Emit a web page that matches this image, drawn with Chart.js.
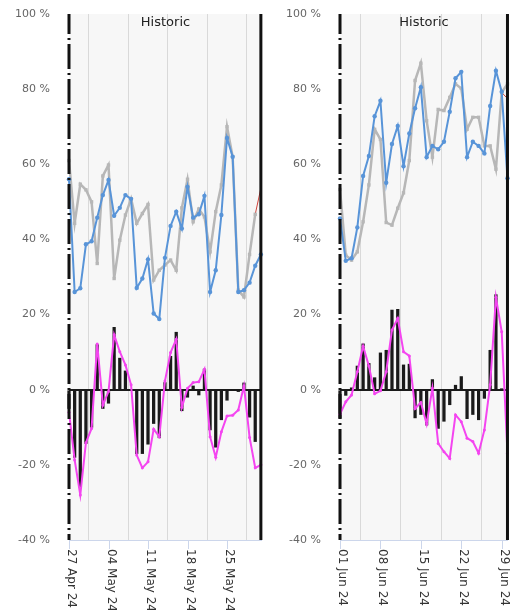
<!DOCTYPE html>
<html>
<head>
<meta charset="utf-8">
<script src="https://cdn.jsdelivr.net/npm/chart.js@4.4.1/dist/chart.umd.min.js"></script>
<style>
  html, body { margin:0; padding:0; background:#fff; overflow:hidden; width:512px; height:610px; }
  .panel { position:absolute; top:0; }
</style>
</head>
<body>
<div class="panel" style="left:0"><canvas id="may" width="270" height="610"></canvas></div>
<div class="panel" style="left:270px"><canvas id="jun" width="242" height="610"></canvas></div>
<script>
// weekly ticks (day index from the first day of each panel)
const tickDays = [0, 7, 14, 21, 28];
const mayLabels = ['27 Apr 24', '04 May 24', '11 May 24', '18 May 24', '25 May 24'];
const junLabels = ['01 Jun 24', '08 Jun 24', '15 Jun 24', '22 Jun 24', '29 Jun 24'];

// 27 Apr - 31 May
const mayBlue = [56, 26, 27, 38.7, 39.5, 45.8, 51.8, 55.8, 46.3, 48.4, 51.8, 50.8, 27.1, 29.6, 34.7, 20.3, 18.8, 35.1,
                 43.6, 47.4, 42.9, 54, 45.8, 46.7, 51.6, 26, 31.8, 46.5, 67, 62, 26, 26.5, 28.5, 33, 36];
const mayGray = [61, 44.3, 54.7, 53.2, 50, 33.6, 56.9, 59.8, 29.6, 39.8, 46.5, 50.8, 44.3, 46.9, 49.3, 29.2, 31.8, 33.2,
                 34.5, 31.8, 48.4, 56, 44.7, 48.1, 46, 36.7, 47.4, 54.5, 70, 62, 26.5, 24.7, 36, 46.7, null];
const mayDiff = [-5, -18, -26, -14.3, -10, 12, -5, -3.6, 16.6, 8.4, 5, 0, -17, -17, -14.5, -9, -12.8, 1.9,
                 8.9, 15.3, -5.6, -2, 1, -1.4, 5.5, -10.7, -15.3, -8, -2.8, 0, -0.5, 1.8, -7.3, -13.8, null];
const mayPink = [-6, -18.7, -28, -14.1, -10.3, 12.2, -4.1, -0.5, 14.6, 10.1, 6.6, 1.3, -17.4, -20.8, -19.2, -10.5, -12.5, 2.3,
                 9.9, 13.4, -4.7, 0.4, 1.9, 2.1, 5.4, -12.5, -18, -11.2, -7, -6.8, -5.4, 1, -12.7, -20.8, -20];
const mayForecast = [46.7, 53.6];
const mayForecastStart = 33;

// 01 Jun - 30 Jun
const junBlue = [45.6, 34.3, 35, 43.2, 56.9, 62.2, 72.8, 76.9, 55.1, 65.4, 70.2, 59.5, 68.2, 74.9, 80.5,
                 61.9, 64.9, 64, 66, 74, 82.9, 84.6, 61.9, 66, 64.9, 62.9, 75.5, 84.9, 79.3, 56.3];
const junGray = [53.3, 35.8, 34.5, 36.7, 44.7, 54.5, 69.3, 66.6, 44.5, 43.8, 48.3, 52.4, 61, 82.3, 86.9,
                 71.6, 61.9, 74.6, 74.3, 77.8, 81.4, 80.2, 69.3, 72.5, 72.5, 64.9, 64.9, 58.7, 79.1, 81.4];
const junDiff = [-7.6, -1.5, 0.5, 6.3, 12.2, 7, 3.2, 9.8, 10.5, 21.2, 21.4, 6.6, 6.8, -7.5, -6.6,
                 -9.4, 2.7, -10.3, -8.4, -4, 1.2, 3.5, -7.7, -6.6, -8, -2.3, 10.5, 25.3, 0.2, null];
const junPink = [-6.5, -3.2, -1.4, 4.8, 11.6, 6.3, -1.1, -0.3, 4.8, 15.9, 19, 10.1, 9, -5, -3.4,
                 -9.1, 0.4, -14.3, -16.5, -18.3, -6.7, -8.5, -12.9, -13.8, -16.9, -10.7, 1.3, 24.6, 15.4, -16.9];
const junForecast = [79.1, 77.5];
const junForecastStart = 28;

const FONT = "'DejaVu Sans', sans-serif";
const BLUE = '#5894d8', GRAY = '#b7b7b7', PINK = '#f445f0', RED = '#d0453c';

const pts = (arr, start) => arr.map((v, i) => ({ x: (start || 0) + i, y: v }));

// plot background, axis line, rotated date labels, month boundary lines, title
const decor = {
  id: 'decor',
  beforeDraw(chart) {
    const { ctx, chartArea: a } = chart;
    ctx.save();
    ctx.fillStyle = '#f7f7f7';
    ctx.fillRect(a.left, a.top, a.right - a.left, a.bottom - a.top);
    ctx.restore();
  },
  afterDatasetsDraw(chart) {
    const { ctx, chartArea: { left, right, top, bottom }, scales: { x } } = chart;
    const o = chart.options.plugins.decor;
    ctx.save();
    ctx.strokeStyle = '#ccd6eb';
    ctx.lineWidth = 1;
    ctx.beginPath(); ctx.moveTo(left, bottom + 0.5); ctx.lineTo(right, bottom + 0.5); ctx.stroke();
    tickDays.forEach((d, i) => {
      const px = Math.round(x.getPixelForValue(d)) + 0.5;
      ctx.beginPath(); ctx.moveTo(px, bottom); ctx.lineTo(px, bottom + 9); ctx.stroke();
      ctx.save();
      ctx.translate(px + 2, bottom + 9);
      ctx.rotate(Math.PI / 2);
      ctx.fillStyle = '#333';
      ctx.font = '12px ' + FONT;
      ctx.textAlign = 'left';
      ctx.textBaseline = 'middle';
      ctx.fillText(o.labels[i], 0, 0);
      ctx.restore();
    });
    ctx.strokeStyle = '#111';
    ctx.lineWidth = 3;
    ctx.setLineDash([25, 4, 2, 4]);
    ctx.lineDashOffset = 5;
    const x0 = x.getPixelForValue(0);
    ctx.beginPath(); ctx.moveTo(x0, top); ctx.lineTo(x0, bottom); ctx.stroke();
    ctx.setLineDash([]);
    const x1 = x.getPixelForValue(o.endDay);
    ctx.beginPath(); ctx.moveTo(x1, top); ctx.lineTo(x1, bottom); ctx.stroke();
    ctx.fillStyle = '#222';
    ctx.font = '13px ' + FONT;
    ctx.textAlign = 'center';
    ctx.textBaseline = 'middle';
    ctx.fillText('Historic', (left + right) / 2, top + 9);
    ctx.restore();
  }
};

function panel(id, c) {
  new Chart(document.getElementById(id), {
    type: 'line',
    data: {
      datasets: [
        { data: pts(c.blue), borderColor: BLUE, backgroundColor: BLUE, borderWidth: 2,
          pointRadius: 2.2, pointBorderWidth: 0, clip: false },
        { data: pts(c.gray), borderColor: GRAY, backgroundColor: GRAY, borderWidth: 2.5,
          pointStyle: 'rect', pointRadius: 2.4, pointBorderWidth: 0, clip: false },
        { data: pts(c.fc, c.fcStart), borderColor: RED, borderWidth: 1, pointRadius: 0, clip: false },
        { data: pts(c.pink), borderColor: PINK, backgroundColor: PINK, borderWidth: 2,
          pointRadius: 1.5, pointBorderWidth: 0, clip: false },
        { type: 'bar', data: pts(c.diff), backgroundColor: '#1a1a1a', barThickness: 2.6, clip: false }
      ]
    },
    options: {
      responsive: false,
      animation: false,
      layout: { padding: { top: 14, right: c.padRight, left: 0, bottom: 0 } },
      plugins: {
        legend: { display: false },
        tooltip: { enabled: false },
        decor: { labels: c.labels, endDay: c.endDay }
      },
      scales: {
        x: {
          type: 'linear', min: 0, max: c.maxDay, offset: false,
          afterBuildTicks: s => { s.ticks = tickDays.map(v => ({ value: v })); },
          afterFit: s => { s.height = 70; },
          grid: { color: '#d9d9d9', lineWidth: 1, drawTicks: false },
          border: { display: false },
          ticks: { display: false }
        },
        y: {
          min: -40, max: 100,
          afterFit: s => { s.width = c.yWidth; s.paddingTop = 0; s.paddingBottom = 0; },
          ticks: { stepSize: 20, callback: v => v + ' %', color: '#666', font: { family: FONT, size: 11 }, padding: 19 },
          grid: { drawTicks: false, lineWidth: 2,
                  color: ctx => (ctx.tick && ctx.tick.value === 0) ? '#1a1a1a' : 'rgba(0,0,0,0)' },
          border: { display: false }
        }
      }
    },
    plugins: [decor]
  });
}

panel('may', { blue: mayBlue, gray: mayGray, diff: mayDiff, pink: mayPink, fc: mayForecast, fcStart: mayForecastStart,
               labels: mayLabels, endDay: 34, maxDay: 34.2, yWidth: 69, padRight: 8 });
panel('jun', { blue: junBlue, gray: junGray, diff: junDiff, pink: junPink, fc: junForecast, fcStart: junForecastStart,
               labels: junLabels, endDay: 29, maxDay: 29.09, yWidth: 70, padRight: 2 });
</script>
</body>
</html>
